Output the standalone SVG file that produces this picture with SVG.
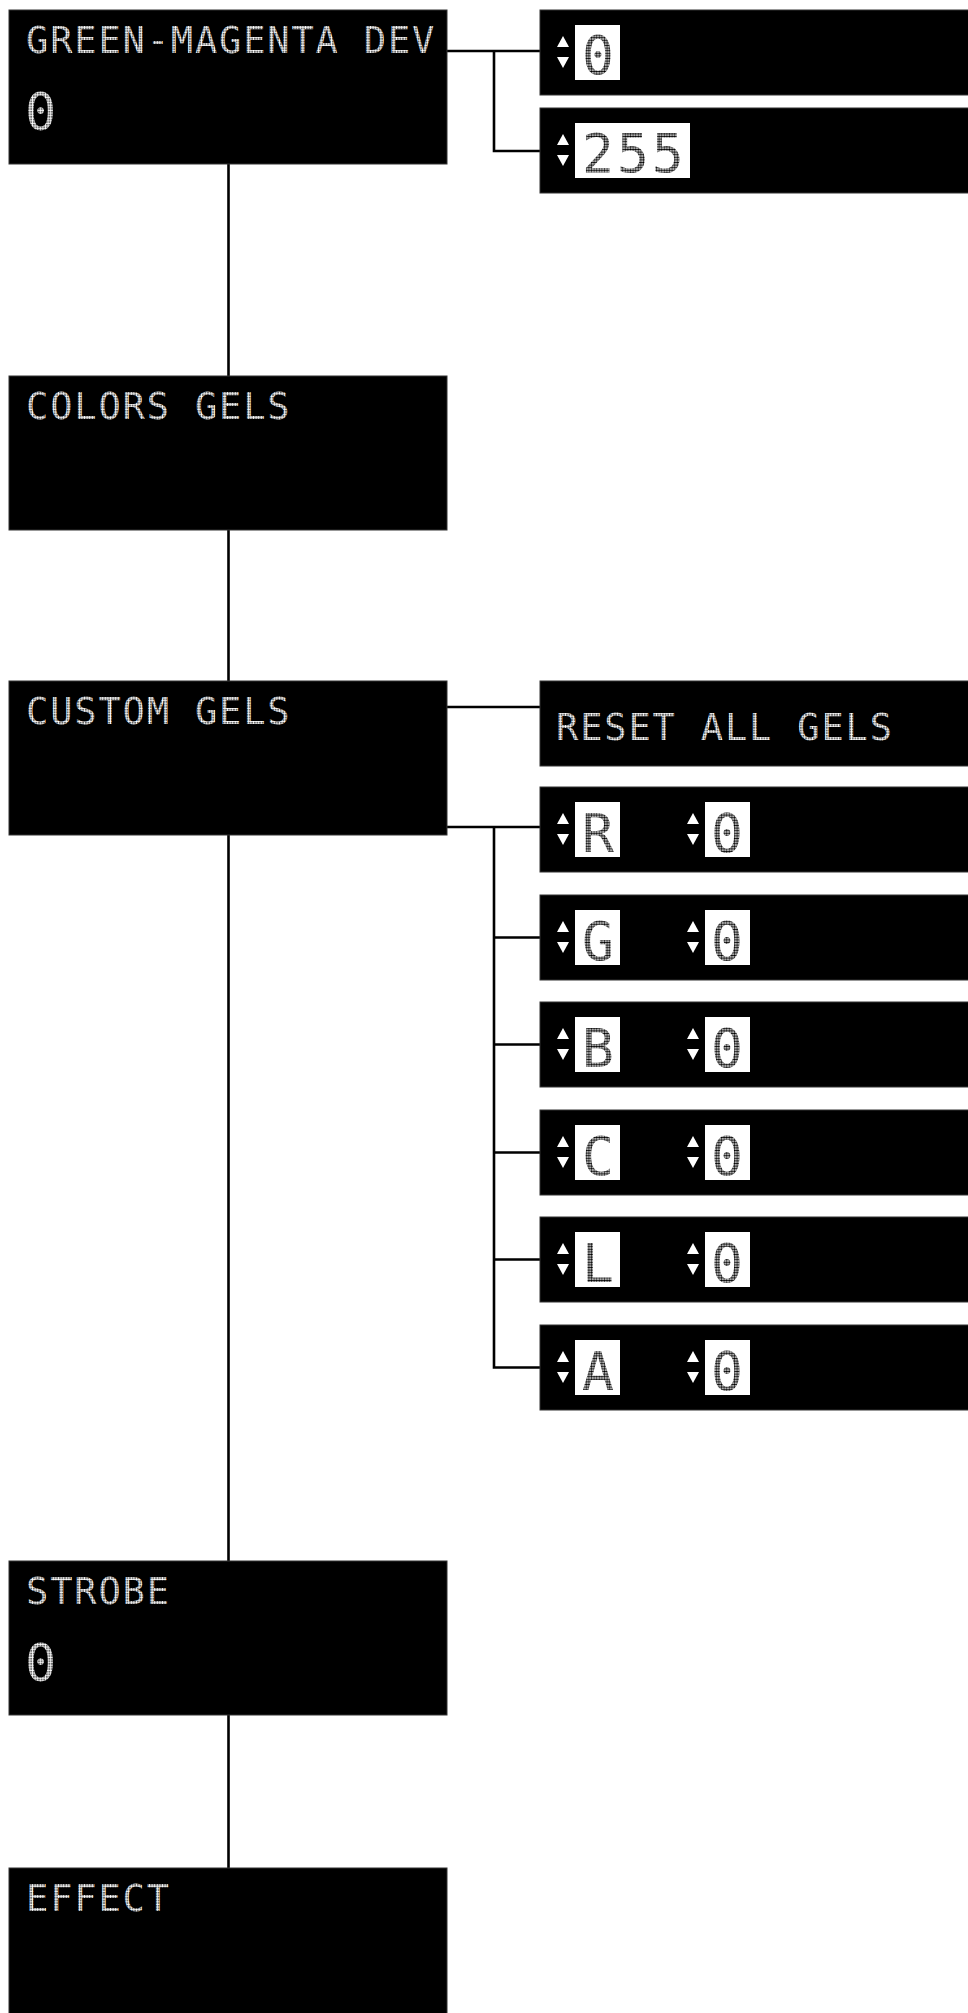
<svg xmlns="http://www.w3.org/2000/svg" width="968" height="2013" viewBox="0 0 968 2013">
<defs>
<pattern id="dw" patternUnits="userSpaceOnUse" width="2.6" height="2.6"><circle cx="1.3" cy="1.3" r="1.2" fill="#fff"/></pattern>
<pattern id="db" patternUnits="userSpaceOnUse" width="2.6" height="2.6"><circle cx="1.3" cy="1.3" r="1.15" fill="#000"/></pattern>
<g id="ud"><polygon points="-6,37 6,37 0,26" fill="#fff"/><polygon points="-6,47 6,47 0,58" fill="#fff"/></g>
</defs>
<style>
.box{fill:#000;stroke:#333;stroke-width:1}
.t{font-family:"DejaVu Sans Mono","Liberation Mono",monospace;font-size:37px;letter-spacing:1.85px;fill:url(#dw)}
.v{font-family:"DejaVu Sans Mono","Liberation Mono",monospace;font-size:52px;fill:url(#dw)}
.bv{font-family:"DejaVu Sans Mono","Liberation Mono",monospace;font-size:53px;letter-spacing:3px;fill:url(#db)}
.wb{fill:#fff}
.c{fill:none;stroke:#000;stroke-width:2.6}
</style>
<rect width="968" height="2013" fill="#fff"/>
<g id="connectors">
<path class="c" d="M228.5 164V1868"/>
<path class="c" d="M447 51H540M494 51V151H540"/>
<path class="c" d="M447 707H540"/>
<path class="c" d="M447 827H540M494 827V1367.5H540M494 937.5H540M494 1044.5H540M494 1152.5H540M494 1259.5H540"/>
</g>
<g id="n-green-magenta">
<rect class="box" x="9" y="10" width="438" height="154"/>
<text class="t" x="26" y="53">GREEN-MAGENTA DEV</text>
<text class="v" x="25" y="130">0</text>
</g>
<g id="n-gm-min">
<rect class="box" x="540" y="10" width="440" height="85"/>
<use href="#ud" x="563" y="10"/>
<rect class="wb" x="575" y="25" width="45" height="55"/>
<text class="bv" x="582" y="74">0</text>
</g>
<g id="n-gm-max">
<rect class="box" x="540" y="108" width="440" height="85"/>
<use href="#ud" x="563" y="108"/>
<rect class="wb" x="575" y="123" width="115" height="55"/>
<text class="bv" x="582" y="172">255</text>
</g>
<g id="n-colors-gels">
<rect class="box" x="9" y="376" width="438" height="154"/>
<text class="t" x="26" y="419">COLORS GELS</text>
</g>
<g id="n-custom-gels">
<rect class="box" x="9" y="681" width="438" height="154"/>
<text class="t" x="26" y="724">CUSTOM GELS</text>
</g>
<g id="n-reset">
<rect class="box" x="540" y="681" width="440" height="85"/>
<text class="t" x="556" y="740">RESET ALL GELS</text>
</g>
<g id="n-r">
<rect class="box" x="540" y="787" width="440" height="85"/>
<use href="#ud" x="563" y="787"/><rect class="wb" x="575" y="802" width="45" height="55"/><text class="bv" x="582" y="852">R</text>
<use href="#ud" x="693" y="787"/><rect class="wb" x="705" y="802" width="45" height="55"/><text class="bv" x="711" y="852">0</text>
</g>
<g id="n-g">
<rect class="box" x="540" y="895" width="440" height="85"/>
<use href="#ud" x="563" y="895"/><rect class="wb" x="575" y="910" width="45" height="55"/><text class="bv" x="582" y="960">G</text>
<use href="#ud" x="693" y="895"/><rect class="wb" x="705" y="910" width="45" height="55"/><text class="bv" x="711" y="960">0</text>
</g>
<g id="n-b">
<rect class="box" x="540" y="1002" width="440" height="85"/>
<use href="#ud" x="563" y="1002"/><rect class="wb" x="575" y="1017" width="45" height="55"/><text class="bv" x="582" y="1067">B</text>
<use href="#ud" x="693" y="1002"/><rect class="wb" x="705" y="1017" width="45" height="55"/><text class="bv" x="711" y="1067">0</text>
</g>
<g id="n-c">
<rect class="box" x="540" y="1110" width="440" height="85"/>
<use href="#ud" x="563" y="1110"/><rect class="wb" x="575" y="1125" width="45" height="55"/><text class="bv" x="582" y="1175">C</text>
<use href="#ud" x="693" y="1110"/><rect class="wb" x="705" y="1125" width="45" height="55"/><text class="bv" x="711" y="1175">0</text>
</g>
<g id="n-l">
<rect class="box" x="540" y="1217" width="440" height="85"/>
<use href="#ud" x="563" y="1217"/><rect class="wb" x="575" y="1232" width="45" height="55"/><text class="bv" x="582" y="1282">L</text>
<use href="#ud" x="693" y="1217"/><rect class="wb" x="705" y="1232" width="45" height="55"/><text class="bv" x="711" y="1282">0</text>
</g>
<g id="n-a">
<rect class="box" x="540" y="1325" width="440" height="85"/>
<use href="#ud" x="563" y="1325"/><rect class="wb" x="575" y="1340" width="45" height="55"/><text class="bv" x="582" y="1390">A</text>
<use href="#ud" x="693" y="1325"/><rect class="wb" x="705" y="1340" width="45" height="55"/><text class="bv" x="711" y="1390">0</text>
</g>
<g id="n-strobe">
<rect class="box" x="9" y="1561" width="438" height="154"/>
<text class="t" x="26" y="1604">STROBE</text>
<text class="v" x="25" y="1681">0</text>
</g>
<g id="n-effect">
<rect class="box" x="9" y="1868" width="438" height="160"/>
<text class="t" x="26" y="1911">EFFECT</text>
</g>
</svg>
